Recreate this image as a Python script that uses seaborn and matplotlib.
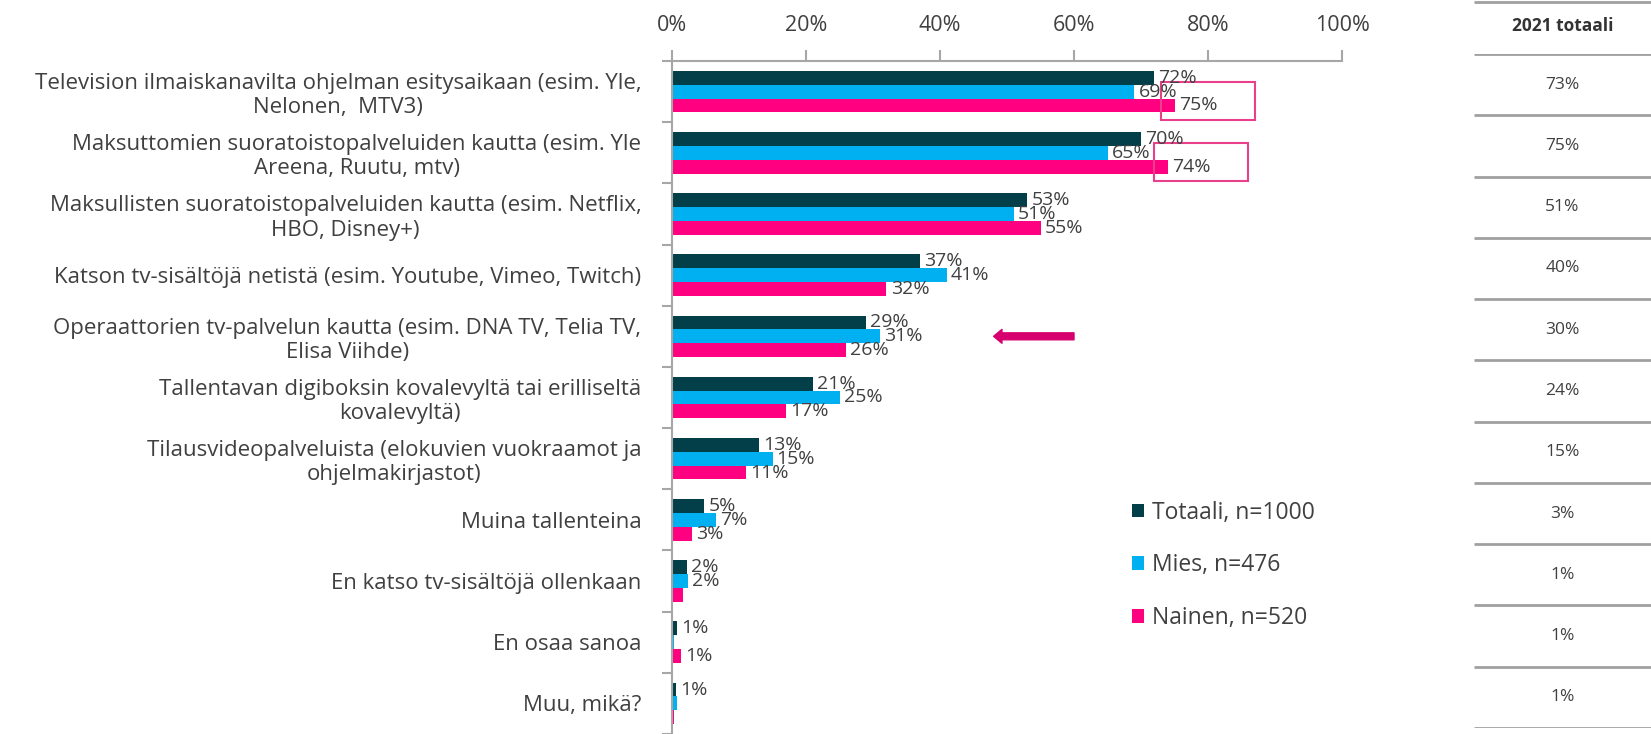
import matplotlib
matplotlib.use("Agg")
import matplotlib.pyplot as plt
import numpy as np
import pandas as pd
import seaborn as sns
from matplotlib.patches import Rectangle

# data
categories = [
    "Television ilmaiskanavilta ohjelman esitysaikaan (esim. Yle,\nNelonen,  MTV3)",
    "Maksuttomien suoratoistopalveluiden kautta (esim. Yle\nAreena, Ruutu, mtv)",
    "Maksullisten suoratoistopalveluiden kautta (esim. Netflix,\nHBO, Disney+)",
    "Katson tv-sisältöjä netistä (esim. Youtube, Vimeo, Twitch)",
    "Operaattorien tv-palvelun kautta (esim. DNA TV, Telia TV,\nElisa Viihde)",
    "Tallentavan digiboksin kovalevyltä tai erilliseltä\nkovalevyltä)",
    "Tilausvideopalveluista (elokuvien vuokraamot ja\nohjelmakirjastot)",
    "Muina tallenteina",
    "En katso tv-sisältöjä ollenkaan",
    "En osaa sanoa",
    "Muu, mikä?",
]
series = ["Totaali, n=1000", "Mies, n=476", "Nainen, n=520"]
totaali = [72, 70, 53, 37, 29, 21, 13, 4.8, 2.2, 0.7, 0.6]
mies = [69, 65, 51, 41, 31, 25, 15, 6.6, 2.4, 0.3, 0.7]
nainen = [75, 74, 55, 32, 26, 17, 11, 3.0, 1.7, 1.3, 0.3]
totaali_labels = ["72%", "70%", "53%", "37%", "29%", "21%", "13%", "5%", "2%", "1%", "1%"]
mies_labels = ["69%", "65%", "51%", "41%", "31%", "25%", "15%", "7%", "2%", "", ""]
nainen_labels = ["75%", "74%", "55%", "32%", "26%", "17%", "11%", "3%", "", "1%", ""]
totals_2021 = ["73%", "75%", "51%", "40%", "30%", "24%", "15%", "3%", "1%", "1%", "1%"]
x_ticks = [0, 20, 40, 60, 80, 100]
highlight_rows = [0, 1]
arrow_row = 4

colors = ["#033F48", "#00B0F0", "#FF0080"]
text_color = "#404040"
line_color = "#A6A6A6"

sns.set_theme(style="white")
plt.rcParams["font.family"] = ["Open Sans", "DejaVu Sans"]

W, H = 1651, 734
fig = plt.figure(figsize=(W / 100, H / 100), dpi=100)
ax = fig.add_axes([672 / W, 0, 670 / W, 1 - 61 / H])

df = pd.DataFrame({"category": categories, series[0]: totaali,
                   series[1]: mies, series[2]: nainen})
df = df.melt(id_vars="category", var_name="series", value_name="value")

sns.barplot(data=df, x="value", y="category", hue="series", hue_order=series,
            palette=colors, saturation=1, orient="h", width=0.68,
            linewidth=0, ax=ax)

# bar labels
for cont, labels in zip(ax.containers, [totaali_labels, mies_labels, nainen_labels]):
    ax.bar_label(cont, labels=labels, padding=3, fontsize=14, color=text_color)

# axes styling
ax.set_xlim(0, 100)
ax.set_ylim(len(categories) - 0.5, -0.5)
ax.xaxis.tick_top()
ax.set_xticks(x_ticks)
ax.set_xticklabels([f"{t}%" for t in x_ticks])
ax.tick_params(axis="x", top=True, bottom=False, direction="out", length=8,
               width=1.5, color=line_color, labelsize=15.5, labelcolor=text_color, pad=10)
ax.set_yticks(range(len(categories)))
ax.set_yticklabels(categories)
ax.set_yticks(np.arange(-0.5, len(categories)), minor=True)
ax.tick_params(axis="y", which="major", length=0, pad=22, labelsize=16,
               labelcolor=text_color)
ax.tick_params(axis="y", which="minor", left=True, length=7, width=1.5,
               color=line_color, direction="out")
for t in ax.get_yticklabels():
    t.set_multialignment("center")
    t.set_linespacing(1.2)
ax.set_xlabel("")
ax.set_ylabel("")
for s in ["right", "bottom"]:
    ax.spines[s].set_visible(False)
for s in ["top", "left"]:
    ax.spines[s].set_color(line_color)
    ax.spines[s].set_linewidth(1.5)

# legend
ax.legend(loc="upper left", bbox_to_anchor=(1111 / W, 1 - 480 / H),
          bbox_transform=fig.transFigure, frameon=False, handlelength=0.55,
          handleheight=0.55, handletextpad=0.35, labelspacing=1.25, fontsize=16.5,
          labelcolor=text_color)

# highlight boxes around women's labels
for r in highlight_rows:
    ax.add_patch(Rectangle((nainen[r] - 2, r - 0.16), 14, 0.62, fill=False,
                           ec="#E8408A", lw=1.5, clip_on=False))

# arrow
ax.annotate("", xy=(48, arrow_row), xytext=(60, arrow_row),
            arrowprops=dict(facecolor="#D6006E", edgecolor="#D6006E",
                            width=5, headwidth=10, headlength=6, shrink=0))

# 2021 table
tax = fig.add_axes([1474 / W, 6 / H, 177 / W, 1 - 54 / H - 6 / H])
tax.set_xlim(0, 1)
tax.set_ylim(len(categories) - 0.5, -0.5)
tax.axis("off")
tax.hlines(np.arange(-0.5, len(categories)), 0, 1, color="#A0A0A0", lw=2)
tax.hlines(-1.35, 0, 1, color="#A0A0A0", lw=2, clip_on=False)
tax.text(0.5, -0.95, "2021 totaali", ha="center", va="center", fontsize=12.5,
         fontweight="bold", color="#333333")
for i, v in enumerate(totals_2021):
    tax.text(0.5, i, v, ha="center", va="center", fontsize=12.5, color=text_color)

fig.savefig("out.png", dpi=100)
